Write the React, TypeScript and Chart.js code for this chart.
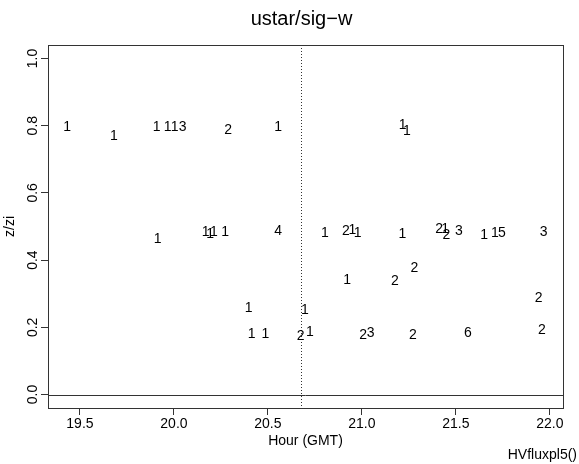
import { useEffect, useRef } from 'react';
import { Chart, registerables } from 'chart.js';

Chart.register(...registerables);

// ---- data ----
const hours = [
  19.432, 19.680, 19.908, 19.966, 20.004, 20.046, 20.288, 20.554, 21.217, 21.239,
  19.913, 20.169, 20.193, 20.212, 20.273, 20.554, 20.803, 20.915, 20.950, 20.977,
  21.215, 21.411, 21.443, 21.450, 21.516, 21.651, 21.707, 21.745, 21.967,
  21.279, 20.922, 21.176, 21.940, 20.697, 20.398, 20.413, 20.487, 20.674, 20.723,
  21.007, 21.047, 21.271, 21.564, 21.958,
];
const zOverZi = [
  0.799, 0.771, 0.799, 0.799, 0.799, 0.799, 0.789, 0.799, 0.804, 0.786,
  0.467, 0.486, 0.480, 0.486, 0.486, 0.489, 0.485, 0.489, 0.494, 0.483,
  0.482, 0.497, 0.497, 0.478, 0.489, 0.477, 0.484, 0.484, 0.487,
  0.379, 0.345, 0.340, 0.290, 0.256, 0.260, 0.182, 0.182, 0.176, 0.189,
  0.181, 0.186, 0.179, 0.186, 0.194,
];
const countLabels = [
  '1', '1', '1', '1', '1', '3', '2', '1', '1', '1',
  '1', '1', '1', '1', '1', '4', '1', '2', '1', '1',
  '1', '2', '1', '2', '3', '1', '1', '5', '3',
  '2', '1', '2', '2', '1', '1', '1', '1', '2', '1',
  '2', '3', '2', '6', '2',
];
const xTickValues = [19.5, 20.0, 20.5, 21.0, 21.5, 22.0];
const yTickValues = [0.0, 0.2, 0.4, 0.6, 0.8, 1.0];
const referenceHour = [20.674];
const xRange = [19.33, 22.07];
const yRange = [-0.04, 1.04];

const titleText = 'ustar/sig\u2212w';
const xTitle = 'Hour (GMT)';
const yTitle = 'z/zi';
const footerText = 'HVfluxpl5()';

const FONT = '"Liberation Sans", Arial, Helvetica, sans-serif';
const LINE = '#333333';

const decorPlugin = {
  id: 'decor',
  beforeDatasetsDraw(chart: any) {
    const { ctx, chartArea: a, scales } = chart;
    const xs = scales.x;
    const ys = scales.y;
    ctx.save();
    // box
    ctx.strokeStyle = LINE;
    ctx.lineWidth = 1;
    ctx.strokeRect(Math.round(a.left) + 0.5, Math.round(a.top) + 0.5,
      Math.round(a.right - a.left), Math.round(a.bottom - a.top));
    // horizontal zero line
    const y0 = Math.round(ys.getPixelForValue(0)) + 0.5;
    ctx.beginPath();
    ctx.moveTo(a.left, y0);
    ctx.lineTo(a.right, y0);
    ctx.stroke();
    // vertical dotted line
    referenceHour.forEach((h) => {
      const xv = Math.round(xs.getPixelForValue(h)) + 0.5;
      ctx.setLineDash([1, 2]);
      ctx.beginPath();
      ctx.moveTo(xv, a.top);
      ctx.lineTo(xv, a.bottom);
      ctx.stroke();
      ctx.setLineDash([]);
    });
    // y tick labels (rotated)
    ctx.fillStyle = '#000';
    ctx.font = `14px ${FONT}`;
    ctx.textAlign = 'center';
    ctx.textBaseline = 'middle';
    yTickValues.forEach((v) => {
      const py = ys.getPixelForValue(v);
      ctx.save();
      ctx.translate(a.left - 15, py);
      ctx.rotate(-Math.PI / 2);
      ctx.fillText(v.toFixed(1), 0, 0);
      ctx.restore();
    });
    // y title
    ctx.save();
    ctx.translate(10, (a.top + a.bottom) / 2);
    ctx.rotate(-Math.PI / 2);
    ctx.fillText(yTitle, 0, 0);
    ctx.restore();
    // x title
    ctx.fillText(xTitle, (a.left + a.right) / 2, 441);
    // footer
    ctx.textAlign = 'right';
    ctx.fillText(footerText, 577, 455);
    // main title
    ctx.textAlign = 'center';
    ctx.font = `20px ${FONT}`;
    ctx.fillText(titleText, (a.left + a.right) / 2 - 4, 19);
    ctx.restore();
  },
};

const textPointsPlugin = {
  id: 'textPoints',
  afterDatasetsDraw(chart: any) {
    const { ctx } = chart;
    const meta = chart.getDatasetMeta(0);
    ctx.save();
    ctx.fillStyle = '#000';
    ctx.font = `14px ${FONT}`;
    ctx.textAlign = 'center';
    ctx.textBaseline = 'alphabetic';
    meta.data.forEach((el: any, i: number) => {
      ctx.fillText(countLabels[i], el.x, el.y + 5);
    });
    ctx.restore();
  },
};

export default function App() {
  const canvasRef = useRef<HTMLCanvasElement>(null);

  useEffect(() => {
    if (!canvasRef.current) return;
    const chart = new Chart(canvasRef.current, {
      type: 'scatter',
      data: {
        datasets: [
          {
            data: hours.map((h, i) => ({ x: h, y: zOverZi[i] })),
            pointRadius: 0,
            pointHoverRadius: 0,
          },
        ],
      },
      options: {
        animation: false,
        responsive: false,
        devicePixelRatio: 1,
        events: [],
        layout: { padding: { left: 0, right: 16, top: 45, bottom: 0 } },
        plugins: {
          legend: { display: false },
          title: { display: false },
          tooltip: { enabled: false },
        },
        scales: {
          x: {
            type: 'linear',
            min: xRange[0],
            max: xRange[1],
            afterBuildTicks: (scale: any) => {
              scale.ticks = xTickValues.map((v) => ({ value: v }));
            },
            afterFit: (scale: any) => {
              scale.height = 56;
            },
            border: { display: false },
            grid: {
              display: true,
              drawOnChartArea: false,
              drawTicks: true,
              tickLength: 7,
              color: LINE,
            },
            ticks: {
              color: '#000',
              font: { family: FONT, size: 14 },
              padding: 1,
              maxRotation: 0,
              autoSkip: false,
              callback: (v: any) => Number(v).toFixed(1),
            },
          },
          y: {
            type: 'linear',
            min: yRange[0],
            max: yRange[1],
            afterBuildTicks: (scale: any) => {
              scale.ticks = yTickValues.map((v) => ({ value: v }));
            },
            afterFit: (scale: any) => {
              scale.width = 48;
            },
            border: { display: false },
            grid: {
              display: true,
              drawOnChartArea: false,
              drawTicks: true,
              tickLength: 7,
              color: LINE,
            },
            ticks: { display: false },
          },
        },
      },
      plugins: [decorPlugin, textPointsPlugin],
    });
    return () => chart.destroy();
  }, []);

  return (
    <div style={{ position: 'fixed', left: 0, top: 0, width: 579, height: 464, background: '#fff' }}>
      <canvas ref={canvasRef} width={579} height={464} />
    </div>
  );
}
